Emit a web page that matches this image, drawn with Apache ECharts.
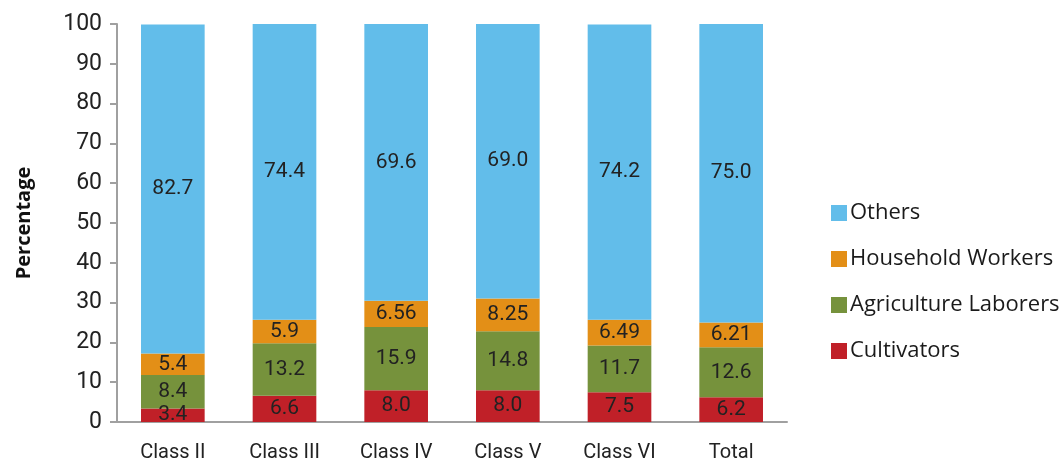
<!DOCTYPE html>
<html>
<head>
<meta charset="utf-8">
<script src="https://cdn.jsdelivr.net/npm/echarts@6/dist/echarts.min.js"></script>
<style>
    html, body { margin: 0; padding: 0; background: #fff; }
    #chart { width: 1060px; height: 461px; }
</style>
</head>
<body>
<div id="chart"></div>
<script>
'use strict';

var categories = ['Class II', 'Class III', 'Class IV', 'Class V', 'Class VI', 'Total'];
var cultivators = [3.4, 6.6, 8.0, 8.0, 7.5, 6.2];
var agricultureLaborers = [8.4, 13.2, 15.9, 14.8, 11.7, 12.6];
var householdWorkers = [5.4, 5.9, 6.56, 8.25, 6.49, 6.21];
var others = [82.7, 74.4, 69.6, 69.0, 74.2, 75.0];
var yTicks = [0, 10, 20, 30, 40, 50, 60, 70, 80, 90, 100];

var chart = echarts.init(document.getElementById('chart'));

function formatValue(v) {
    // one decimal unless the value carries more
    return Math.round(v * 10) / 10 === v ? v.toFixed(1) : String(v);
}

function barSeries(name, data, color) {
    return {
        name: name,
        type: 'bar',
        stack: 'total',
        barWidth: '57%',
        data: data,
        itemStyle: { color: color },
        label: {
            show: true,
            position: 'inside',
            color: '#222',
            fontFamily: 'Roboto',
            fontSize: 21,
            formatter: function (p) { return formatValue(p.value); }
        }
    };
}

var option = {
    animation: false,
    grid: {
        left: 117,
        right: 273,
        top: 24,
        bottom: 39,
        containLabel: false,
        outerBoundsMode: 'none'
    },
    legend: {
        orient: 'vertical',
        left: 826,
        top: 197,
        itemWidth: 16,
        itemHeight: 16,
        itemGap: 24,
        icon: 'rect',
        data: ['Others', 'Household Workers', 'Agriculture Laborers', 'Cultivators'],
        textStyle: {
            fontFamily: 'Open Sans',
            fontSize: 22,
            color: '#1a1a1a',
            padding: [0, 0, 0, -2]
        }
    },
    xAxis: {
        type: 'category',
        data: categories,
        axisLine: { lineStyle: { color: '#a0a0a0', width: 2 } },
        axisTick: { show: false },
        axisLabel: {
            margin: 21,
            fontFamily: 'Roboto',
            fontSize: 20,
            color: '#222'
        }
    },
    yAxis: {
        type: 'value',
        min: yTicks[0],
        max: yTicks[yTicks.length - 1],
        interval: 10,
        name: 'Percentage',
        nameLocation: 'middle',
        nameRotate: 90,
        nameGap: 83,
        nameTextStyle: {
            fontFamily: 'Open Sans',
            fontWeight: 'bold',
            fontSize: 20,
            color: '#111'
        },
        axisLine: { show: true, lineStyle: { color: '#a0a0a0', width: 2 } },
        axisTick: { show: true, length: 7, lineStyle: { color: '#a0a0a0', width: 2 } },
        splitLine: { show: false },
        axisLabel: {
            margin: 15,
            fontFamily: 'Roboto',
            fontSize: 23,
            color: '#222'
        }
    },
    series: [
        barSeries('Cultivators', cultivators, '#c02028'),
        barSeries('Agriculture Laborers', agricultureLaborers, '#76923c'),
        barSeries('Household Workers', householdWorkers, '#e38f17'),
        barSeries('Others', others, '#62bdea')
    ]
};

chart.setOption(option);
</script>
</body>
</html>
